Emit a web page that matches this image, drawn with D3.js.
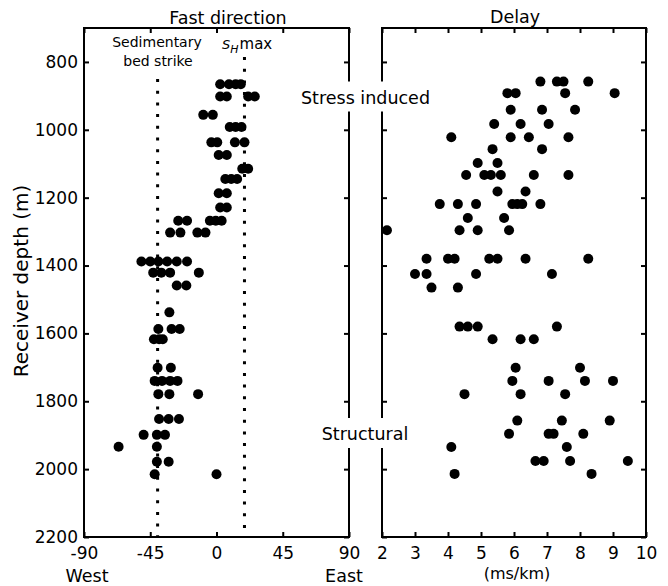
<!DOCTYPE html>
<html>
<head>
<meta charset="utf-8">
<script src="https://cdn.jsdelivr.net/npm/d3@7"></script>
<style>
  body { margin: 0; background: #fff; }
  svg { font-family: "DejaVu Sans", Verdana, sans-serif; }
</style>
</head>
<body>
<div id="viz"></div>
<script>
// Fast direction: receiver depth (m) and fast azimuths (deg) at each level
const fastDepths = [866, 902, 956, 992, 1037, 1074, 1115, 1145, 1187, 1229, 1268, 1303,
  1388, 1421, 1459, 1538, 1587, 1617, 1701, 1740, 1779, 1852, 1899, 1934, 1978, 2015];
const fastAngles = [
  [2.5, 8.5, 13, 16.5],
  [2.5, 7, 21.5, 26],
  [-9, -2.5],
  [9, 13, 17],
  [-3.5, 0.5, 12.5, 19],
  [1.5, 7],
  [17.5, 21.5],
  [6, 10, 14],
  [1.5, 7],
  [2.5, 7],
  [-26, -20, -4.5, -0.5, 3.5],
  [-31.5, -24.5, -13, -7.5],
  [-51, -45, -39.5, -33.5, -27, -20],
  [-43, -37.5, -31.5, -12],
  [-27, -20.5],
  [-32],
  [-39.5, -30.5, -25],
  [-42.5, -39, -36.5],
  [-40, -31],
  [-42, -37, -31.5, -26.5],
  [-39.5, -32, -12.5],
  [-39, -32.5, -25.5],
  [-49.5, -40.5, -35],
  [-66.5, -40.5],
  [-40.5, -32.5],
  [-42, 0]
];

// Delay: receiver depth (m) and delay (ms/km)
const delayDepths = [858, 892, 941, 983, 1022, 1057, 1098, 1133, 1182, 1219, 1260, 1296,
  1380, 1425, 1465, 1580, 1617, 1701, 1740, 1779, 1857, 1896, 1935, 1976, 2014];
const delayValues = [
  [6.8, 7.3, 7.5, 8.25],
  [5.8, 6.05, 7.55, 9.05],
  [5.9, 6.85, 7.85],
  [5.4, 6.2, 7.05],
  [4.1, 5.9, 6.45, 7.65],
  [5.35, 6.85],
  [4.9, 5.5],
  [4.55, 5.1, 5.3, 5.6, 6.6, 7.65],
  [5.5, 6.35],
  [3.75, 4.3, 4.85, 5.95, 6.1, 6.25, 6.8],
  [4.6, 5.7],
  [2.15, 4.35, 4.9, 5.85],
  [3.35, 4.0, 4.2, 5.25, 5.5, 6.35, 8.25],
  [3.0, 3.35, 4.85, 7.15],
  [3.5, 4.3],
  [4.35, 4.6, 4.9, 7.3],
  [5.35, 6.2, 6.6],
  [6.05, 8.0],
  [5.95, 7.05, 8.15, 9.0],
  [4.5, 6.2, 7.55],
  [6.1, 7.45, 8.9],
  [5.85, 7.05, 7.2, 8.1],
  [4.1, 7.6],
  [6.65, 6.9, 7.7, 9.45],
  [4.2, 8.35]
];

const depthTicks = [800, 1000, 1200, 1400, 1600, 1800, 2000, 2200];
const angleTicks = [-90, -45, 0, 45, 90];
const delayTicks = [2, 3, 4, 5, 6, 7, 8, 9, 10];
const bedStrike = -40;   // sedimentary bed strike
const shMax = 19;        // SHmax azimuth

const width = 668, height = 586;
const yTop = 28, yBottom = 537;

const svg = d3.select("#viz").append("svg")
  .attr("width", width)
  .attr("height", height);

const y = d3.scaleLinear().domain([700, 2200]).range([yTop, yBottom]);
const xFast = d3.scaleLinear().domain([-90, 90]).range([84, 349]);
const xDelay = d3.scaleLinear().domain([2, 10]).range([382, 646]);

function panel(x, ticks, depthLabels) {
  const [x0, x1] = x.range();
  const g = svg.append("g");

  g.append("g").attr("transform", `translate(0,${yBottom})`)
    .call(d3.axisBottom(x).tickValues(ticks).tickSize(-5).tickPadding(10).tickFormat(d => String(d)));
  g.append("g").attr("transform", `translate(0,${yTop})`)
    .call(d3.axisTop(x).tickValues(ticks).tickSize(-5).tickFormat(""));
  g.append("g").attr("transform", `translate(${x0},0)`)
    .call(d3.axisLeft(y).tickValues(depthTicks).tickSize(-5).tickPadding(6)
      .tickFormat(depthLabels ? d => String(d) : ""));
  g.append("g").attr("transform", `translate(${x1},0)`)
    .call(d3.axisRight(y).tickValues(depthTicks).tickSize(-5).tickFormat(""));

  g.selectAll(".domain").remove();
  g.selectAll("g").attr("font-family", null).attr("font-size", 17);
  g.selectAll(".tick line").attr("stroke", "#000").attr("stroke-width", 2);
  g.selectAll(".tick text").attr("fill", "#000");

  g.append("rect")
    .attr("x", x0).attr("y", yTop)
    .attr("width", x1 - x0).attr("height", yBottom - yTop)
    .attr("fill", "none")
    .attr("stroke", "#000")
    .attr("stroke-width", 2);
}

panel(xFast, angleTicks, true);
panel(xDelay, delayTicks, false);

// reference directions (dotted)
const refs = [{ v: bedStrike, y0: 79 }, { v: shMax, y0: 57 }];
svg.append("g").selectAll("line")
  .data(refs)
  .enter().append("line")
  .attr("x1", d => xFast(d.v)).attr("x2", d => xFast(d.v))
  .attr("y1", d => d.y0).attr("y2", yBottom)
  .attr("stroke", "#000")
  .attr("stroke-width", 3)
  .attr("stroke-dasharray", "3,8.7");

// flatten rows into points
const fastPts = fastDepths.flatMap((d, i) => fastAngles[i].map(a => ({ depth: d, v: a })));
const delayPts = delayDepths.flatMap((d, i) => delayValues[i].map(a => ({ depth: d, v: a })));

svg.append("g").selectAll("circle")
  .data(fastPts)
  .enter().append("circle")
  .attr("cx", d => xFast(d.v))
  .attr("cy", d => y(d.depth))
  .attr("r", 5)
  .attr("fill", "#000");

svg.append("g").selectAll("circle")
  .data(delayPts)
  .enter().append("circle")
  .attr("cx", d => xDelay(d.v))
  .attr("cy", d => y(d.depth))
  .attr("r", 5)
  .attr("fill", "#000");

// titles and axis labels
function label(txt, x, yy, size, anchor) {
  return svg.append("text")
    .attr("x", x).attr("y", yy)
    .attr("font-size", size)
    .attr("text-anchor", anchor || "middle")
    .attr("fill", "#000")
    .text(txt);
}

label("Fast direction", 228, 24, 17.5);
label("Delay", 515, 23, 17.5);
label("West", 87, 582, 17.5);
label("East", 344, 582, 17.5);
label("(ms/km)", 517, 579, 16);

svg.append("text")
  .attr("transform", "translate(28,281) rotate(-90)")
  .attr("text-anchor", "middle")
  .attr("font-size", 20)
  .attr("fill", "#000")
  .text("Receiver depth (m)");

label("Sedimentary", 157, 47, 14);
label("bed strike", 158, 66, 14);

const sh = svg.append("text").attr("x", 222).attr("y", 49).attr("fill", "#000");
sh.append("tspan").attr("font-style", "italic").attr("font-size", 13).text("S");
sh.append("tspan").attr("font-style", "italic").attr("font-size", 11).attr("dy", 4).text("H");
sh.append("tspan").attr("font-size", 15).attr("dy", -4).attr("dx", 1).text("max");

// regime labels on white boxes that break the frames
[{ t: "Stress induced", x: 365.5, y: 103.5 }, { t: "Structural", x: 365, y: 440 }].forEach(d => {
  const txt = label(d.t, d.x, d.y, 17.5);
  const bb = txt.node().getBBox();
  svg.insert("rect", () => txt.node())
    .attr("x", bb.x - 2).attr("y", bb.y - 6)
    .attr("width", bb.width + 4).attr("height", bb.height + 10)
    .attr("fill", "#fff");
});
</script>
</body>
</html>
